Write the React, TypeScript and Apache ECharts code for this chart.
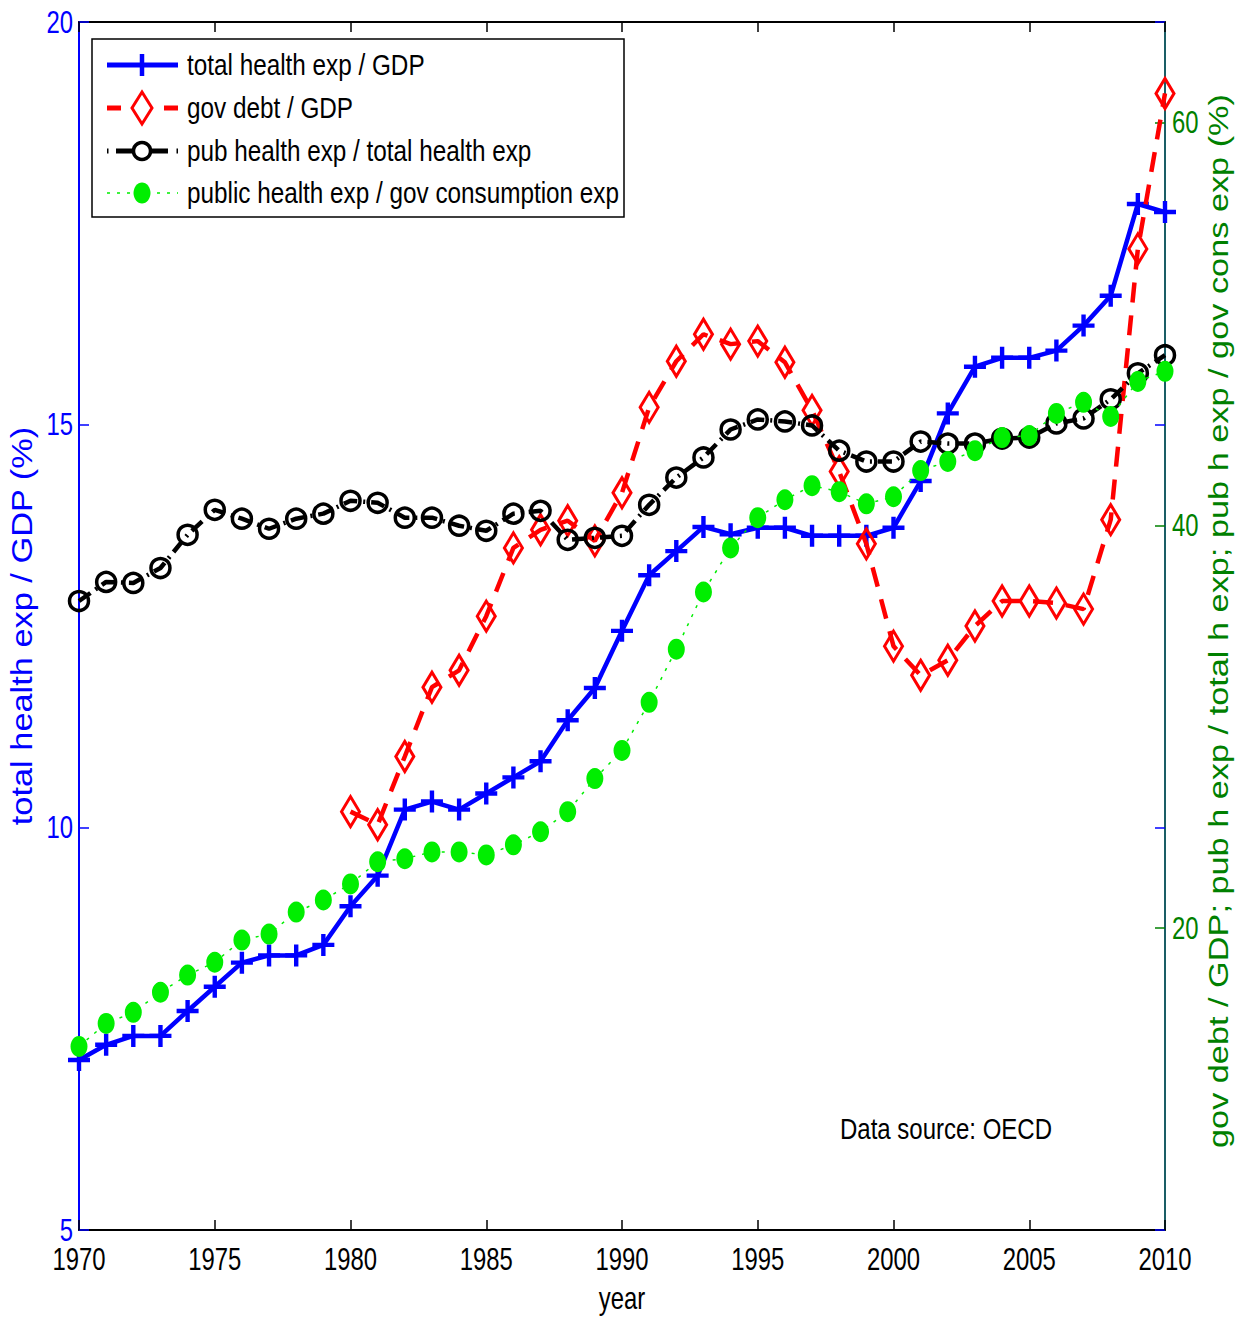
import React, { useEffect, useRef } from "react";
import * as echarts from "echarts";

const years = [1970,1971,1972,1973,1974,1975,1976,1977,1978,1979,1980,1981,1982,1983,1984,1985,1986,1987,1988,1989,1990,1991,1992,1993,1994,1995,1996,1997,1998,1999,2000,2001,2002,2003,2004,2005,2006,2007,2008,2009,2010];

const totalHealthGdp = [7.11,7.30,7.41,7.41,7.72,8.02,8.32,8.41,8.41,8.54,9.02,9.40,10.22,10.32,10.22,10.42,10.62,10.82,11.33,11.73,12.44,13.13,13.43,13.73,13.64,13.72,13.72,13.62,13.62,13.62,13.72,14.30,15.14,15.72,15.83,15.83,15.92,16.23,16.60,17.74,17.64];

const debtYears = [1980,1981,1982,1983,1984,1985,1986,1987,1988,1989,1990,1991,1992,1993,1994,1995,1996,1997,1998,1999,2000,2001,2002,2003,2004,2005,2006,2007,2008,2009,2010];
const govDebtGdp = [25.78,25.13,28.52,31.96,32.80,35.49,38.88,39.78,40.23,39.23,41.62,45.86,48.15,49.49,49.00,49.15,48.10,45.71,42.67,39.08,34.00,32.55,33.30,35.00,36.24,36.24,36.14,35.84,40.28,53.73,61.45];

const pubShareHealth = [36.24,37.19,37.14,37.88,39.53,40.77,40.33,39.83,40.33,40.58,41.22,41.12,40.38,40.38,39.98,39.73,40.58,40.72,39.28,39.38,39.48,41.02,42.37,43.37,44.76,45.26,45.16,44.96,43.71,43.17,43.17,44.16,44.06,44.06,44.31,44.36,45.06,45.31,46.26,47.55,48.45];

const pubHealthGovCons = [14.12,15.26,15.81,16.81,17.66,18.30,19.40,19.70,20.79,21.39,22.19,23.29,23.44,23.78,23.78,23.63,24.13,24.78,25.78,27.42,28.82,31.21,33.85,36.69,38.88,40.38,41.27,41.97,41.67,41.07,41.42,42.72,43.17,43.71,44.36,44.46,45.56,46.11,45.41,47.15,47.65];

const xTicks = [1970,1975,1980,1985,1990,1995,2000,2005,2010];
const leftTicks = [5,10,15,20];
const rightTicks = [20,40,60];

const legendLabels = [
  "total health exp / GDP",
  "gov debt / GDP",
  "pub health exp / total health exp",
  "public health exp / gov consumption exp",
];
const leftName = "total health exp / GDP (%)";
const rightName = "gov debt / GDP; pub h exp / total h exp; pub h exp / gov cons exp (%)";
const xName = "year";
const sourceNote = "Data source: OECD";

const FONT = '"Liberation Sans", Arial, Helvetica, sans-serif';
const PLUS = "path://M4,0h2v4h4v2h-4v4h-2v-4h-4v-2h4z";

export default function App() {
  const ref = useRef<HTMLDivElement>(null);
  useEffect(() => {
    if (!ref.current) return;
    const chart = echarts.init(ref.current, null, { renderer: "svg" });
    const pair = (xs: number[], ys: number[]) => xs.map((x, i) => [x, ys[i]]);
    const option: any = {
      animation: false,
      backgroundColor: "#fff",
      grid: { left: 79, right: 70, top: 22, bottom: 89, outerBoundsMode: "none", containLabel: false },
      xAxis: [
        {
          type: "value",
          min: 1970,
          max: 2010,
          interval: 5,
          axisLine: { lineStyle: { color: "#000", width: 2 } },
          axisTick: { inside: true, length: 10, lineStyle: { color: "#000", width: 1.5 } },
          axisLabel: { show: false },
          splitLine: { show: false },
        },
        {
          type: "value",
          position: "top",
          min: 1970,
          max: 2010,
          interval: 5,
          axisLine: { show: true, lineStyle: { color: "#000", width: 2 } },
          axisTick: { inside: true, length: 10, lineStyle: { color: "#000", width: 1.5 } },
          axisLabel: { show: false },
          splitLine: { show: false },
        },
      ],
      yAxis: [
        {
          type: "value",
          position: "left",
          min: 5,
          max: 20,
          interval: 5,
          axisLine: { show: true, lineStyle: { color: "#0000ff", width: 2 } },
          axisTick: { inside: true, length: 10, lineStyle: { color: "#0000ff", width: 1.5 } },
          axisLabel: { show: false },
          splitLine: { show: false },
        },
        {
          type: "value",
          position: "right",
          min: 5,
          max: 65,
          axisLine: { show: true, lineStyle: { color: "#1a5e66", width: 2 } },
          axisTick: { inside: true, length: 10, customValues: rightTicks, lineStyle: { color: "#008000", width: 1.5 } },
          axisLabel: { show: false },
          splitLine: { show: false },
        },
        {
          type: "value",
          position: "right",
          min: 5,
          max: 20,
          interval: 5,
          axisLine: { show: false },
          axisTick: { inside: true, length: 10, lineStyle: { color: "#0000ff", width: 1.5 } },
          axisLabel: { show: false },
          splitLine: { show: false },
        },
      ],
      series: [
        {
          name: legendLabels[0],
          type: "line",
          yAxisIndex: 0,
          data: pair(years, totalHealthGdp),
          symbol: PLUS,
          symbolSize: 22,
          lineStyle: { color: "#0000ff", width: 4.5 },
          itemStyle: { color: "#0000ff" },
          z: 2,
        },
        {
          name: legendLabels[1],
          type: "line",
          yAxisIndex: 1,
          data: pair(debtYears, govDebtGdp),
          symbol: "diamond",
          symbolSize: [18, 30],
          lineStyle: { color: "#ff0000", width: 4.5, type: [20, 13] },
          itemStyle: { color: "rgba(0,0,0,0)", borderColor: "#ff0000", borderWidth: 3.2 },
          z: 3,
        },
        {
          name: legendLabels[2],
          type: "line",
          yAxisIndex: 1,
          data: pair(years, pubShareHealth),
          symbol: "circle",
          symbolSize: 19,
          lineStyle: { color: "#000", width: 4.5, type: [14, 6, 2, 6] },
          itemStyle: { color: "rgba(0,0,0,0)", borderColor: "#000", borderWidth: 3.5 },
          z: 4,
        },
        {
          name: legendLabels[3],
          type: "line",
          yAxisIndex: 1,
          data: pair(years, pubHealthGovCons),
          symbol: "circle",
          symbolSize: [17, 21],
          lineStyle: { color: "#00ee00", width: 1.5, type: [3, 7] },
          itemStyle: { color: "#00ee00" },
          z: 5,
        },
      ],
    };
    chart.setOption(option);

    // Texts (drawn condensed / stretched like the original), placed through the axes' scales
    const g: any[] = [];
    const txt = (text: string, x: number, y: number, opts: any = {}) => ({
      type: "text",
      x,
      y,
      scaleX: opts.scaleX ?? 0.77,
      rotation: opts.rotation ?? 0,
      z: 110,
      style: {
        text,
        font: `${opts.size ?? 31}px ${FONT}`,
        fill: opts.color ?? "#000",
        align: opts.align ?? "center",
        verticalAlign: opts.vAlign ?? "middle",
      },
    });
    xTicks.forEach((v) => {
      const px = chart.convertToPixel({ xAxisIndex: 0 }, v) as number;
      g.push(txt(String(v), px, 1259));
    });
    leftTicks.forEach((v) => {
      const py = chart.convertToPixel({ yAxisIndex: 0 }, v) as number;
      g.push(txt(String(v), 73, py, { align: "right", color: "#0000ff" }));
    });
    rightTicks.forEach((v) => {
      const py = chart.convertToPixel({ yAxisIndex: 1 }, v) as number;
      g.push(txt(String(v), 1172, py, { align: "left", color: "#008000" }));
    });
    const xMid = ((chart.convertToPixel({ xAxisIndex: 0 }, 1970) as number) + (chart.convertToPixel({ xAxisIndex: 0 }, 2010) as number)) / 2;
    const yMid = ((chart.convertToPixel({ yAxisIndex: 0 }, 5) as number) + (chart.convertToPixel({ yAxisIndex: 0 }, 20) as number)) / 2;
    g.push(txt(xName, xMid, 1298, { size: 31 }));
    g.push(txt(leftName, 22, yMid, { size: 29, scaleX: 1.185, rotation: Math.PI / 2, color: "#0000ff" }));
    g.push(txt(rightName, 1219, yMid - 5, { size: 27, scaleX: 1.27, rotation: Math.PI / 2, color: "#008000" }));
    g.push(txt(sourceNote, 840, 1129, { size: 30, scaleX: 0.8, align: "left" }));

    // Legend box
    const lx = 107, rx = 178, mx = 142;
    const rows = [65, 108, 151, 193];
    g.push({
      type: "rect",
      shape: { x: 92, y: 39, width: 532, height: 178 },
      style: { fill: "#fff", stroke: "#000", lineWidth: 1.5 },
      z: 100,
    });
    g.push({ type: "line", shape: { x1: lx, y1: rows[0], x2: rx, y2: rows[0] }, style: { stroke: "#0000ff", lineWidth: 5 }, z: 101 });
    g.push({ type: "line", shape: { x1: mx, y1: rows[0] - 11, x2: mx, y2: rows[0] + 11 }, style: { stroke: "#0000ff", lineWidth: 4.5 }, z: 101 });
    g.push({ type: "line", shape: { x1: lx, y1: rows[1], x2: 121, y2: rows[1] }, style: { stroke: "#ff0000", lineWidth: 5 }, z: 101 });
    g.push({ type: "line", shape: { x1: 164, y1: rows[1], x2: rx, y2: rows[1] }, style: { stroke: "#ff0000", lineWidth: 5 }, z: 101 });
    g.push({ type: "polygon", shape: { points: [[mx, rows[1] - 16], [mx + 10, rows[1]], [mx, rows[1] + 16], [mx - 10, rows[1]]] }, style: { fill: "none", stroke: "#ff0000", lineWidth: 3 }, z: 101 });
    g.push({ type: "line", shape: { x1: lx, y1: rows[2], x2: lx + 1.5, y2: rows[2] }, style: { stroke: "#000", lineWidth: 5 }, z: 101 });
    g.push({ type: "line", shape: { x1: 116, y1: rows[2], x2: 168, y2: rows[2] }, style: { stroke: "#000", lineWidth: 5 }, z: 101 });
    g.push({ type: "line", shape: { x1: rx - 1.5, y1: rows[2], x2: rx, y2: rows[2] }, style: { stroke: "#000", lineWidth: 5 }, z: 101 });
    g.push({ type: "circle", shape: { cx: mx, cy: rows[2], r: 8.5 }, style: { fill: "#fff", stroke: "#000", lineWidth: 3.5 }, z: 102 });
    g.push({ type: "line", shape: { x1: lx, y1: rows[3], x2: rx, y2: rows[3] }, style: { stroke: "#00ee00", lineWidth: 1.5, lineDash: [3, 7] }, z: 101 });
    g.push({ type: "ellipse", shape: { cx: mx, cy: rows[3], rx: 8.5, ry: 10.5 }, style: { fill: "#00ee00" }, z: 102 });
    legendLabels.forEach((t, i) => g.push(txt(t, 187, rows[i], { size: 30, scaleX: 0.81, align: "left" })));

    chart.setOption({ graphic: g });
    return () => chart.dispose();
  }, []);
  return (
    <div
      ref={ref}
      style={{ position: "absolute", left: 0, top: 0, width: 1235, height: 1319, background: "#fff" }}
    />
  );
}
